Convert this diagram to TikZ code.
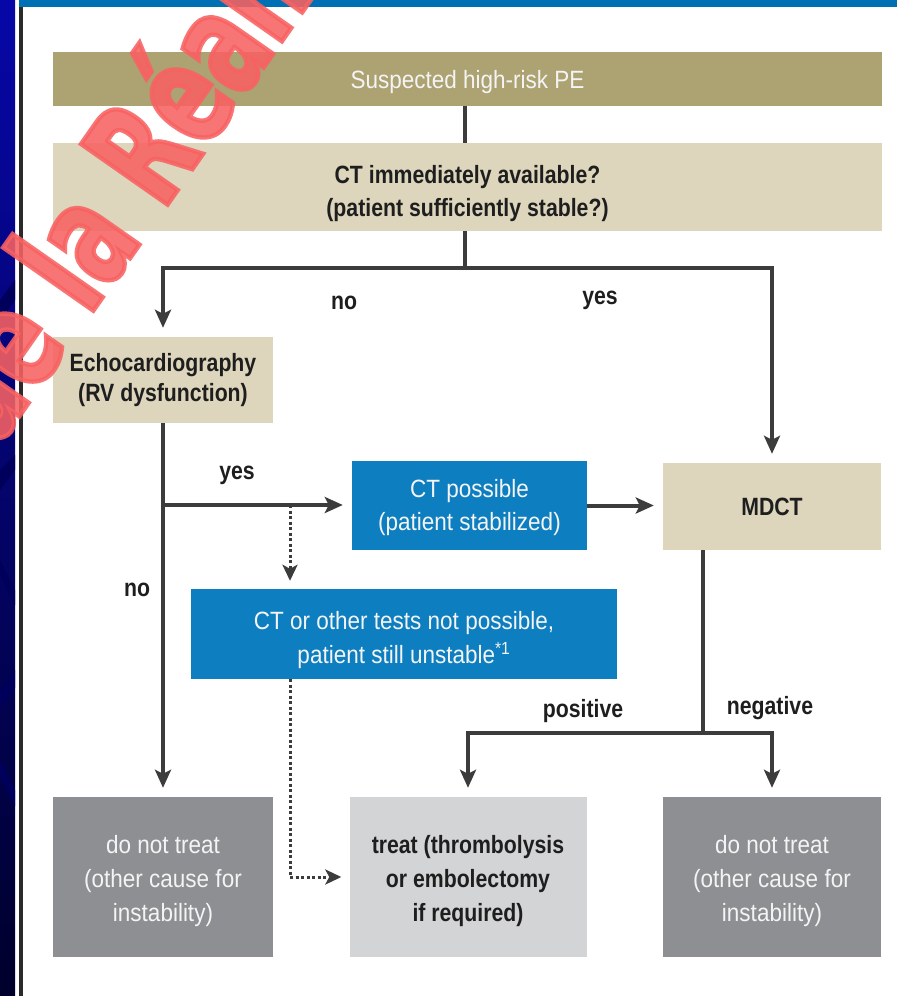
\documentclass[tikz,border=0pt]{standalone}
\usepackage{fontspec}
\setmainfont{Liberation Sans}[FakeStretch=0.9, BoldFeatures={FakeStretch=0.85}]
\newfontfamily\wmfont{DejaVu Sans}[FakeStretch=0.65, BoldFeatures={FakeBold=3}]
\usetikzlibrary{arrows.meta}
\definecolor{cOlive}{HTML}{ADA271}
\definecolor{cBeige}{HTML}{DDD6BC}
\definecolor{cBlue}{HTML}{0D7EC0}
\definecolor{cDGray}{HTML}{8D8F92}
\definecolor{cLGray}{HTML}{D3D4D6}
\definecolor{cLine}{HTML}{3C3C3C}
\definecolor{cTxt}{HTML}{1E1E1E}
\definecolor{cWhite}{HTML}{F4F4F4}
\definecolor{cNavA}{HTML}{0707A8}
\definecolor{cNavB}{HTML}{00002C}
\definecolor{cNavD}{HTML}{00005C}
\definecolor{cBar}{HTML}{0070B4}
\definecolor{cFrame}{HTML}{2A2A2A}
\definecolor{cWater}{HTML}{F86262}
\newcommand\dn[1]{\rule{0pt}{#1}}
\tikzset{
  box/.style={inner sep=0pt, align=center, font=\fontsize{25}{33}\selectfont},
  olivebox/.style={box, fill=cOlive, text=cWhite},
  beigebox/.style={box, fill=cBeige, text=cTxt, font=\fontsize{25}{33}\selectfont\bfseries},
  bluebox/.style={box, fill=cBlue, text=cWhite},
  dgraybox/.style={box, fill=cDGray, text=cWhite, font=\fontsize{25}{34}\selectfont},
  lgraybox/.style={box, fill=cLGray, text=cTxt, font=\fontsize{25}{34}\selectfont\bfseries},
  lbl/.style={inner sep=0pt, text=cTxt, font=\fontsize{25}{30}\selectfont\bfseries},
  flow/.style={draw=cLine, line width=4pt},
  arr/.style={flow, -{Stealth[length=18pt,width=16pt,inset=4pt]}, shorten >=9pt},
  dotline/.style={draw=cLine, line width=3pt, dash pattern=on 3pt off 2.5pt},
  dotarr/.style={dotline, -{Stealth[length=16pt,width=15pt,inset=4pt]}, shorten >=8pt}
}
\begin{document}
\begin{tikzpicture}[x=1pt,y=-1pt]
\useasboundingbox (0,0) rectangle (897,996);
\fill[white] (0,0) rectangle (897,996);
% slide border
\shade[top color=cNavA, bottom color=cNavB] (0,0) rectangle (15,996);
\fill[cNavD] (0,300) -- (15,280) -- (15,300) -- (0,322) -- cycle;
\fill[cNavD] (0,470) -- (15,455) -- (15,470) -- (0,490) -- cycle;
\fill[cNavD] (0,560) -- (15,590) -- (15,605) -- (0,575) -- cycle;
\fill[cNavD] (0,690) -- (15,670) -- (15,688) -- (0,708) -- cycle;
\fill[cNavD] (0,760) -- (15,790) -- (15,806) -- (0,776) -- cycle;
\draw[cFrame, line width=3.5pt] (21,0) -- (21,996);
\fill[cBar] (19,0) rectangle (897,7);

% boxes
\node[olivebox, minimum width=829pt, minimum height=54pt] (pe) at (467.5,79) {\dn{24pt}Suspected high-risk PE};
\node[beigebox, minimum width=829pt, minimum height=88pt] (ct) at (467.5,187) {\dn{31pt}CT immediately available?\\(patient sufficiently stable?)};
\node[beigebox, minimum width=220pt, minimum height=86pt, font=\fontsize{25}{30}\selectfont\bfseries] (echo) at (163,380) {Echocardiography\\(RV dysfunction)};
\node[bluebox, minimum width=235pt, minimum height=89pt] (ctp) at (469.5,505.5) {\dn{22pt}CT possible\\(patient stabilized)};
\node[beigebox, minimum width=218pt, minimum height=87pt] (mdct) at (772,506.5) {MDCT};
\node[bluebox, minimum width=426pt, minimum height=90pt, font=\fontsize{25}{34}\selectfont] (cto) at (404,634) {\dn{31pt}CT or other tests not possible,\\patient still unstable\textsuperscript{*1}};
\node[dgraybox, minimum width=220pt, minimum height=160pt] (dntl) at (163,877) {\dn{26pt}do not treat\\(other cause for\\instability)};
\node[lgraybox, minimum width=237pt, minimum height=160pt] (treat) at (468,877) {\dn{26pt}treat (thrombolysis\\or embolectomy\\if required)};
\node[dgraybox, minimum width=218pt, minimum height=160pt] (dntr) at (772,877) {\dn{26pt}do not treat\\(other cause for\\instability)};

% labels
\node[lbl] (lno1) at (344,303) {no};
\node[lbl] (lyes1) at (600,300) {yes};
\node[lbl] (lyes2) at (237,475) {yes};
\node[lbl] (lno2) at (137,590) {no};
\node[lbl] (lpos) at (583,711) {positive};
\node[lbl] (lneg) at (770,708) {negative};

% connectors
\coordinate (j1) at (465,268);
\coordinate (j2) at (163,505);
\coordinate (d1) at (290,505);
\coordinate (j3) at (703,733);
\draw[flow] (pe.south -| j1) -- (ct.north -| j1);
\draw[flow] (ct.south -| j1) -- (j1);
\draw[arr] (j1) -| (echo.north);
\draw[arr] (j1) -| (mdct.north);
\draw[arr] (echo.south) -- (dntl.north);
\draw[arr] (j2) -- (j2 -| ctp.west);
\draw[arr] (ctp.east) -- (ctp.east -| mdct.west);
\draw[dotarr] (d1) -- (d1 |- cto.north);
\draw[dotarr] (cto.south -| d1) |- (treat.west);
\draw[flow] (mdct.south -| j3) -- (j3);
\draw[arr] (j3) -| (treat.north);
\draw[arr] (j3) -| (dntr.north);

% watermark
\begin{scope}
\clip (0,0) rectangle (897,996);
\node[anchor=base west, rotate=55, inner sep=0pt, text=cWater, opacity=0.88,
      font=\wmfont\bfseries\fontsize{145}{145}\selectfont] (wm) at (-5.5,451.8) {de la Réan};
\end{scope}
\end{tikzpicture}
\end{document}
